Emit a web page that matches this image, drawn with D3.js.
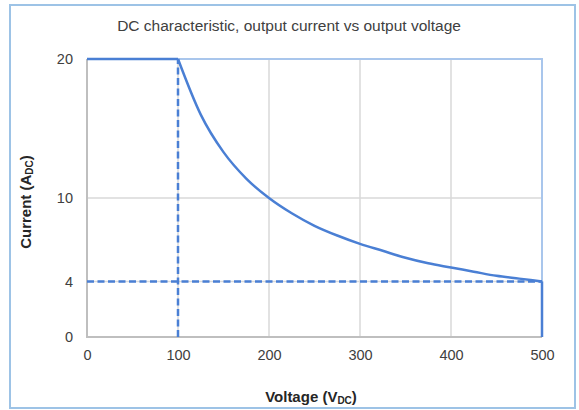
<!DOCTYPE html>
<html>
<head>
<meta charset="utf-8">
<script src="https://cdn.jsdelivr.net/npm/d3@7"></script>
<style>
  body { margin: 0; background: #fff; }
  text { font-family: "Liberation Sans", Arial, sans-serif; }
</style>
</head>
<body>
<script>
// chart values
const xTicks = [0, 100, 200, 300, 400, 500];
const yTicks = [0, 4, 10, 20];
const flatPart = [[0, 20], [100, 20]];           // current limit
const voltage = [100, 125, 150, 175, 200, 225, 250, 275, 300, 325, 350, 375, 400, 425, 450, 475, 500];
const current = [20, 16, 13.3, 11.4, 10, 8.9, 8, 7.3, 6.7, 6.2, 5.7, 5.3, 5, 4.7, 4.4, 4.2, 4];
const dropPart = [[500, 4], [500, 0]];            // end of range
const guideV = [[100, 0], [100, 20]];             // dashed vertical
const guideH = [[0, 4], [500, 4]];                // dashed horizontal

const w = 579, h = 410;
const blue = "#4a7fd4";

const svg = d3.select("body").append("svg")
  .attr("width", w)
  .attr("height", h);

// outer chart frame
svg.append("rect")
  .attr("x", 10).attr("y", 5)
  .attr("width", 565).attr("height", 403)
  .attr("fill", "#fff")
  .attr("stroke", "#9dc3e6")
  .attr("stroke-width", 2);

const x = d3.scaleLinear().domain([0, 500]).range([87, 542]);
const y = d3.scaleLinear().domain([0, 20]).range([337, 59]);

// gridlines
svg.append("g").selectAll("line")
  .data(xTicks.slice(1, -1))
  .join("line")
  .attr("x1", d => x(d)).attr("x2", d => x(d))
  .attr("y1", y(0)).attr("y2", y(20))
  .attr("stroke", "#d9d9d9").attr("stroke-width", 1.5);

svg.append("g").selectAll("line")
  .data(yTicks.slice(1, -1))
  .join("line")
  .attr("x1", x(0)).attr("x2", x(500))
  .attr("y1", d => y(d)).attr("y2", d => y(d))
  .attr("stroke", "#d9d9d9").attr("stroke-width", 1.5);

// plot frame: light blue top/right, grey axes left/bottom
svg.append("path")
  .attr("d", `M${x(0)},${y(20)}H${x(500)}V${y(0)}`)
  .attr("fill", "none").attr("stroke", "#a9c6ec").attr("stroke-width", 2);
svg.append("path")
  .attr("d", `M${x(0)},${y(20)}V${y(0)}H${x(500)}`)
  .attr("fill", "none").attr("stroke", "#bfbfbf").attr("stroke-width", 2);

// tick labels via d3 axes (no lines)
const xAxis = svg.append("g")
  .attr("transform", `translate(0,${y(0)})`)
  .call(d3.axisBottom(x).tickValues(xTicks).tickSize(0).tickPadding(13));
const yAxis = svg.append("g")
  .attr("transform", `translate(${x(0)},0)`)
  .call(d3.axisLeft(y).tickValues(yTicks).tickSize(0).tickPadding(14));
[xAxis, yAxis].forEach(a => {
  a.select(".domain").remove();
  a.selectAll("text")
    .attr("fill", "#404040")
    .style("font-size", "14.5px")
    .style("font-family", "'Liberation Sans', Arial, sans-serif");
});

const line = d3.line().x(d => x(d[0])).y(d => y(d[1]));

// dashed guides
[guideV, guideH].forEach(g => {
  svg.append("path")
    .attr("d", line(g))
    .attr("fill", "none")
    .attr("stroke", blue)
    .attr("stroke-width", 2.5)
    .attr("stroke-dasharray", "7,3.5");
});

// characteristic
svg.append("path")
  .attr("d", line(flatPart))
  .attr("fill", "none").attr("stroke", blue).attr("stroke-width", 2.5);
svg.append("path")
  .attr("d", d3.line().x(d => x(d[0])).y(d => y(d[1])).curve(d3.curveMonotoneX)(voltage.map((v, i) => [v, current[i]])))
  .attr("fill", "none").attr("stroke", blue).attr("stroke-width", 2.5);
svg.append("path")
  .attr("d", line(dropPart))
  .attr("fill", "none").attr("stroke", blue).attr("stroke-width", 2.5);

// title
svg.append("text")
  .attr("x", 289).attr("y", 31)
  .attr("text-anchor", "middle")
  .attr("fill", "#404040")
  .style("font-size", "15.5px")
  .text("DC characteristic, output current vs output voltage");

// axis titles
const xt = svg.append("text")
  .attr("x", 311).attr("y", 402)
  .attr("text-anchor", "middle")
  .attr("fill", "#262626")
  .style("font-size", "15px")
  .style("font-weight", "bold");
xt.append("tspan").text("Voltage (V");
xt.append("tspan").text("DC").style("font-size", "10px").attr("dy", 2);
xt.append("tspan").text(")").attr("dy", -2);

const yt = svg.append("text")
  .attr("transform", "translate(31,202) rotate(-90)")
  .attr("text-anchor", "middle")
  .attr("fill", "#262626")
  .style("font-size", "15px")
  .style("font-weight", "bold");
yt.append("tspan").text("Current (A");
yt.append("tspan").text("DC").style("font-size", "10px").attr("dy", 2);
yt.append("tspan").text(")").attr("dy", -2);
</script>
</body>
</html>
